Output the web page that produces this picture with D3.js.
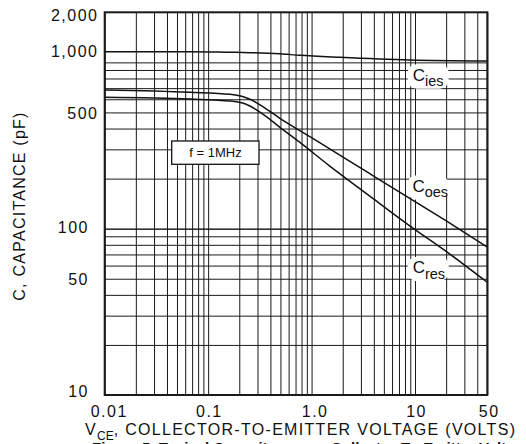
<!DOCTYPE html>
<html>
<head>
<meta charset="utf-8">
<script src="https://cdn.jsdelivr.net/npm/d3@7"></script>
<style>
  body { margin: 0; background: #fff; }
  svg { display: block; font-family: "Liberation Sans", Arial, sans-serif; }
</style>
</head>
<body>
<script>
// capacitance vs collector-to-emitter voltage (f = 1MHz)
var ciesV = [0.01, 0.067, 0.163, 0.254, 0.494, 0.771, 1.88, 8.9, 50];
var ciesC = [1160, 1160, 1150, 1144, 1125, 1103, 1073, 1034, 1019];

var coesV = [0.01, 0.067, 0.163, 0.254, 0.338, 0.494, 1.0, 3.66, 8.9, 21.7, 50];
var coesC = [682, 661, 643, 600, 542, 461, 353, 214, 152, 108, 77.5];

var cresV = [0.01, 0.067, 0.163, 0.23, 0.338, 0.494, 0.771, 1.5, 3.66, 8.9, 21.7, 50];
var cresC = [617, 602, 586, 562, 489, 407, 330, 238, 157, 104, 70.4, 47.6];

// axis ticks
var xTicks = [0.01, 0.1, 1, 10, 50];
var xTickLabels = ["0.01", "0.1", "1.0", "10", "50"];
var yTicks = [10, 50, 100, 500, 1000, 2000];
var yTickLabels = ["10", "50", "100", "500", "1,000", "2,000"];

// curve names and where their labels sit (volts, pF)
var seriesNames = ["ies", "oes", "res"];
var labelV = [9.5, 9.45, 9.5];
var labelC = [776, 167, 54];

var svgWidth = 526;
var svgHeight = 444;

var margin = { top: 12.3, right: 38.7, bottom: 49, left: 104.7 };
var chartWidth = svgWidth - margin.left - margin.right;
var chartHeight = svgHeight - margin.top - margin.bottom;

var svg = d3.select("body")
  .append("svg")
  .attr("width", svgWidth)
  .attr("height", svgHeight);

var chartGroup = svg.append("g")
  .attr("transform", `translate(${margin.left}, ${margin.top})`);

var x = d3.scaleLog().domain([0.01, 50]).range([0, chartWidth]);
var y = d3.scaleLog().domain([10, 2000]).range([chartHeight, 0]);

// grid values: every 1..9 of each decade
var xGrid = [];
[0.01, 0.1, 1, 10].forEach(function(base) {
  for (var k = 1; k <= 9; k++) {
    var v = +(base * k).toPrecision(3);
    if (v <= 50) xGrid.push(v);
  }
});
var yGrid = [];
[10, 100].forEach(function(base) {
  for (var k = 1; k <= 10; k++) yGrid.push(base * k);
});

var gridX = chartGroup.append("g")
  .attr("transform", `translate(0, ${chartHeight})`)
  .call(d3.axisBottom(x).tickValues(xGrid).tickSize(-chartHeight).tickFormat(""));
var gridY = chartGroup.append("g")
  .call(d3.axisLeft(y).tickValues(yGrid).tickSize(-chartWidth).tickFormat(""));
[gridX, gridY].forEach(function(g) {
  g.select(".domain").remove();
  g.selectAll("line").attr("stroke", "#1a1a1a").attr("stroke-width", 1);
});

// white backing behind the curve labels
var labels = chartGroup.append("g");
seriesNames.forEach(function(name, i) {
  var lx = x(labelV[i]);
  var ly = y(labelC[i]);
  labels.append("rect")
    .attr("x", lx - 5)
    .attr("y", ly - 16.5)
    .attr("width", 41)
    .attr("height", 24.5)
    .attr("rx", 9)
    .attr("fill", "#fff");
});

// curves
var line = d3.line()
  .x(d => x(d[0]))
  .y(d => y(d[1]))
  .curve(d3.curveMonotoneX);

[[ciesV, ciesC], [coesV, coesC], [cresV, cresC]].forEach(function(s) {
  chartGroup.append("path")
    .datum(d3.zip(s[0], s[1]))
    .attr("fill", "none")
    .attr("stroke", "#111")
    .attr("stroke-width", 1.5)
    .attr("d", line);
});

// curve labels
seriesNames.forEach(function(name, i) {
  var t = labels.append("text")
    .attr("x", x(labelV[i]))
    .attr("y", y(labelC[i]))
    .attr("fill", "#111")
    .style("font-size", "17px");
  t.append("tspan").text("C");
  t.append("tspan")
    .attr("dy", 5.5)
    .style("font-size", "14.5px")
    .text(name);
});

// frame
chartGroup.append("rect")
  .attr("width", chartWidth)
  .attr("height", chartHeight)
  .attr("fill", "none")
  .attr("stroke", "#1a1a1a")
  .attr("stroke-width", 2);

// f = 1MHz box
chartGroup.append("rect")
  .attr("x", 67)
  .attr("y", 128.7)
  .attr("width", 87.3)
  .attr("height", 23.3)
  .attr("fill", "#fff")
  .attr("stroke", "#111")
  .attr("stroke-width", 1.3);
chartGroup.append("text")
  .attr("x", 110.8)
  .attr("y", 144.4)
  .attr("text-anchor", "middle")
  .attr("fill", "#111")
  .style("font-size", "13px")
  .text("f = 1MHz");

// tick labels
var xNudge = [3.3, 0, 2.3, 0.3, 0.7];
var xAxis = chartGroup.append("g")
  .attr("transform", `translate(0, ${chartHeight})`)
  .call(d3.axisBottom(x).tickValues(xTicks).tickSize(0).tickPadding(10.6)
    .tickFormat((d, i) => xTickLabels[i]));
xAxis.select(".domain").remove();
xAxis.selectAll("text")
  .attr("x", (d, i) => xNudge[i] + 0.75)
  .attr("fill", "#111")
  .style("font-size", "16px")
  .style("letter-spacing", "1.5px")
  .style("font-family", "'Liberation Sans', Arial, sans-serif");

var yNudge = [-4, 0.7, -1, 1, -11, 3];
var yAxis = chartGroup.append("g")
  .call(d3.axisLeft(y).tickValues(yTicks).tickSize(0)
    .tickFormat((d, i) => yTickLabels[i]));
yAxis.select(".domain").remove();
yAxis.selectAll("text")
  .attr("x", d => d >= 500 ? -6.2 : -15.7)
  .attr("y", (d, i) => yNudge[i])
  .attr("fill", "#111")
  .style("font-size", "16px")
  .style("letter-spacing", "1.5px")
  .style("font-family", "'Liberation Sans', Arial, sans-serif");

// axis titles
svg.append("text")
  .attr("transform", "translate(24.5, 206) rotate(-90)")
  .attr("text-anchor", "middle")
  .attr("fill", "#111")
  .style("font-size", "16px")
  .style("letter-spacing", "1.25px")
  .text("C, CAPACITANCE (pF)");

var xTitle = svg.append("text")
  .attr("x", 85)
  .attr("y", 435)
  .attr("fill", "#111")
  .style("font-size", "16px")
  .style("letter-spacing", "1.3px");
xTitle.append("tspan").text("V");
xTitle.append("tspan").attr("dy", 5).style("font-size", "12px").style("letter-spacing", "0px").text("CE");
xTitle.append("tspan").attr("dy", -5).text(", COLLECTOR-TO-EMITTER VOLTAGE (VOLTS)");

// caption, cut off at the bottom edge
svg.append("text")
  .attr("x", 92)
  .attr("y", 453)
  .attr("fill", "#111")
  .style("font-size", "15px")
  .style("font-weight", "bold")
  .text("Figure 5. Typical Capacitance vs. Collector-To-Emitter Voltage");
</script>
</body>
</html>
